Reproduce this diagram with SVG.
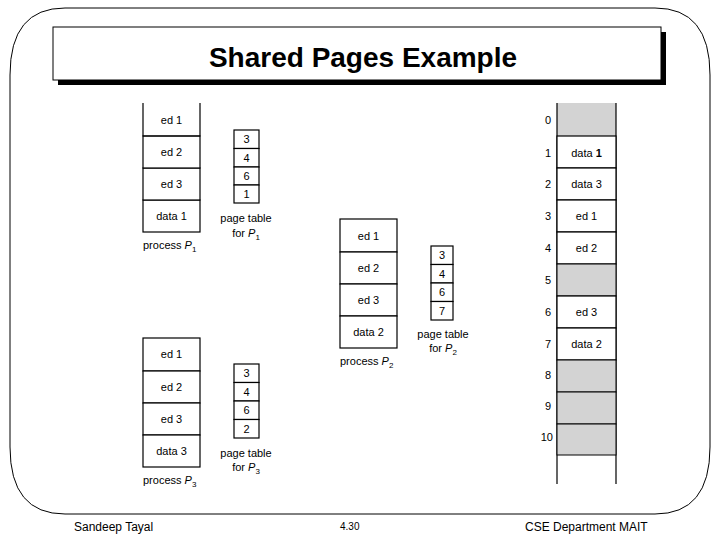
<svg xmlns="http://www.w3.org/2000/svg" width="720" height="540" viewBox="0 0 720 540">
<style>
.t{font-family:"Liberation Sans",Arial,sans-serif;font-size:11px;fill:#000;text-anchor:middle}
.p{font-family:"Liberation Sans",Arial,sans-serif;font-size:11px;fill:#000;text-anchor:start}
.n{font-family:"Liberation Sans",Arial,sans-serif;font-size:11px;fill:#000;text-anchor:end}
.b{fill:#fff;stroke:#000;stroke-width:1.2}
.g{fill:#d3d3d3;stroke:#000;stroke-width:1}
.l{stroke:#000;stroke-width:1.2;fill:none}
.f{font-family:"Liberation Sans",Arial,sans-serif;font-size:12px;fill:#000}
.s{font-size:8px}
</style>
<rect width="720" height="540" fill="#fff"/>
<path d="M65,8 H655 Q710,8 710,75 V447 Q710,514 655,514 H65 Q10,514 10,447 V75 Q10,8 65,8 Z" fill="none" stroke="#000" stroke-width="1"/>
<g id="title">
<rect x="58" y="32" width="608" height="53" fill="#000"/>
<rect x="53" y="27" width="608" height="53" fill="#fff" stroke="#000" stroke-width="1"/>
<text x="363" y="67" font-family="Liberation Sans,Arial,sans-serif" font-size="28" font-weight="bold" text-anchor="middle">Shared Pages Example</text>
</g>
<g id="process-p1">
<rect x="143" y="200" width="57" height="32" class="b"/>
<rect x="143" y="168" width="57" height="32" class="b"/>
<rect x="143" y="136" width="57" height="32" class="b"/>
<path d="M143,103 V136 H200 V103" class="l"/>
<text x="171.5" y="124" class="t">ed 1</text>
<text x="171.5" y="156" class="t">ed 2</text>
<text x="171.5" y="188" class="t">ed 3</text>
<text x="171.5" y="220" class="t">data 1</text>
<text x="143" y="249" class="p">process <tspan font-style="italic">P</tspan><tspan class="s" dy="3">1</tspan></text>
</g>
<g id="pagetable-p1">
<rect x="234" y="130" width="25" height="18.5" class="b"/>
<rect x="234" y="148.5" width="25" height="18.5" class="b"/>
<rect x="234" y="167" width="25" height="18" class="b"/>
<rect x="234" y="185" width="25" height="18" class="b"/>
<text x="246.5" y="143" class="t">3</text>
<text x="246.5" y="162" class="t">4</text>
<text x="246.5" y="180" class="t">6</text>
<text x="246.5" y="198" class="t">1</text>
<text x="246" y="222" class="t">page table</text>
<text x="246" y="237" class="t">for <tspan font-style="italic">P</tspan><tspan class="s" dy="3">1</tspan></text>
</g>
<g id="process-p2">
<rect x="340" y="219" width="57" height="33" class="b"/>
<rect x="340" y="252" width="57" height="32" class="b"/>
<rect x="340" y="284" width="57" height="32" class="b"/>
<rect x="340" y="316" width="57" height="32" class="b"/>
<text x="368.5" y="240" class="t">ed 1</text>
<text x="368.5" y="272" class="t">ed 2</text>
<text x="368.5" y="304" class="t">ed 3</text>
<text x="368.5" y="336" class="t">data 2</text>
<text x="340" y="365" class="p">process <tspan font-style="italic">P</tspan><tspan class="s" dy="3">2</tspan></text>
</g>
<g id="pagetable-p2">
<rect x="431" y="246" width="22" height="18.5" class="b"/>
<rect x="431" y="264.5" width="22" height="18.5" class="b"/>
<rect x="431" y="283" width="22" height="18.5" class="b"/>
<rect x="431" y="301.5" width="22" height="18.5" class="b"/>
<text x="442" y="259" class="t">3</text>
<text x="442" y="278" class="t">4</text>
<text x="442" y="296" class="t">6</text>
<text x="442" y="315" class="t">7</text>
<text x="443" y="338" class="t">page table</text>
<text x="443" y="352" class="t">for <tspan font-style="italic">P</tspan><tspan class="s" dy="3">2</tspan></text>
</g>
<g id="process-p3">
<rect x="143" y="338" width="57" height="33" class="b"/>
<rect x="143" y="371" width="57" height="32" class="b"/>
<rect x="143" y="403" width="57" height="32" class="b"/>
<rect x="143" y="435" width="57" height="32" class="b"/>
<text x="171.5" y="358" class="t">ed 1</text>
<text x="171.5" y="391" class="t">ed 2</text>
<text x="171.5" y="423" class="t">ed 3</text>
<text x="171.5" y="455" class="t">data 3</text>
<text x="143" y="484" class="p">process <tspan font-style="italic">P</tspan><tspan class="s" dy="3">3</tspan></text>
</g>
<g id="pagetable-p3">
<rect x="234" y="364" width="25" height="18.5" class="b"/>
<rect x="234" y="382.5" width="25" height="18.5" class="b"/>
<rect x="234" y="401" width="25" height="18.5" class="b"/>
<rect x="234" y="419.5" width="25" height="18.5" class="b"/>
<text x="246.5" y="377" class="t">3</text>
<text x="246.5" y="396" class="t">4</text>
<text x="246.5" y="414" class="t">6</text>
<text x="246.5" y="433" class="t">2</text>
<text x="246" y="457" class="t">page table</text>
<text x="246" y="471" class="t">for <tspan font-style="italic">P</tspan><tspan class="s" dy="3">3</tspan></text>
</g>
<g id="physical-memory">
<rect x="557" y="103" width="59" height="33" fill="#d3d3d3"/>
<path d="M557,103 V484 M616,103 V484" class="l"/>
<rect x="557" y="136" width="59" height="32" class="b"/>
<rect x="557" y="168" width="59" height="32" class="b"/>
<rect x="557" y="200" width="59" height="32" class="b"/>
<rect x="557" y="232" width="59" height="32" class="b"/>
<rect x="557" y="264" width="59" height="32" class="g"/>
<rect x="557" y="296" width="59" height="32" class="b"/>
<rect x="557" y="328" width="59" height="32" class="b"/>
<rect x="557" y="360" width="59" height="32" class="g"/>
<rect x="557" y="392" width="59" height="32" class="g"/>
<rect x="557" y="424" width="59" height="31" class="g"/>
<text x="586.5" y="157" class="t">data <tspan font-weight="bold">1</tspan></text>
<text x="586.5" y="188" class="t">data 3</text>
<text x="586.5" y="220" class="t">ed 1</text>
<text x="586.5" y="252" class="t">ed 2</text>
<text x="586.5" y="316" class="t">ed 3</text>
<text x="586.5" y="348" class="t">data 2</text>
<text x="551" y="124" class="n">0</text>
<text x="551" y="157" class="n">1</text>
<text x="551" y="188" class="n">2</text>
<text x="551" y="220" class="n">3</text>
<text x="551" y="252" class="n">4</text>
<text x="551" y="284" class="n">5</text>
<text x="551" y="316" class="n">6</text>
<text x="551" y="348" class="n">7</text>
<text x="551" y="379" class="n">8</text>
<text x="551" y="410" class="n">9</text>
<text x="553" y="441" class="n">10</text>
</g>
<g id="footer">
<text x="74" y="531" class="f">Sandeep Tayal</text>
<text x="340" y="530" font-family="Liberation Sans,Arial,sans-serif" font-size="10">4.30</text>
<text x="525" y="531" class="f">CSE Department MAIT</text>
</g>
</svg>
